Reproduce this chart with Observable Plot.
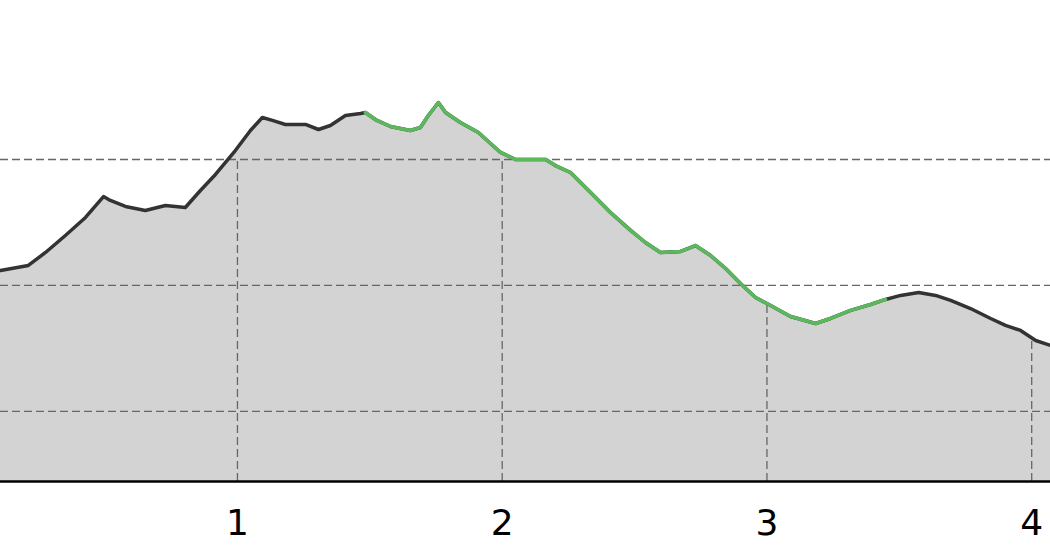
<!DOCTYPE html>
<html>
<head>
<meta charset="utf-8">
<script src="https://cdn.jsdelivr.net/npm/d3@7"></script>
<script src="https://cdn.jsdelivr.net/npm/@observablehq/plot@0.6"></script>
<style>
  html, body { margin: 0; padding: 0; background: #fff; }
  #chart svg { display: block; }
</style>
</head>
<body>
<div id="chart"></div>
<script>
// distance along route (km)
const distance = [0.105,0.210,0.275,0.350,0.426,0.494,0.520,0.577,0.652,0.728,0.803,0.860,0.917,0.992,1.049,1.094,1.132,1.181,1.257,1.306,1.351,1.408,1.465,1.483,1.521,1.578,1.653,1.691,1.721,1.759,1.786,1.842,1.910,1.956,1.994,2.050,2.164,2.201,2.258,2.334,2.409,2.485,2.541,2.598,2.674,2.730,2.787,2.844,2.900,2.957,3.014,3.089,3.184,3.240,3.316,3.391,3.448,3.505,3.573,3.637,3.694,3.769,3.845,3.901,3.958,4.015,4.071];
// elevation (m)
const elevation = [211.9,215.9,226.2,239.7,254.0,270.6,267.5,262.7,259.5,263.5,261.9,275.4,288.1,307.1,323.0,333.3,331.0,327.8,327.8,323.8,327.0,334.9,336.5,337.3,331.7,326.2,323.0,325.4,334.9,345.2,337.3,329.4,321.4,312.7,305.6,300.0,300.0,295.2,289.7,273.8,257.9,243.7,234.1,226.2,227.0,231.7,223.8,213.5,201.6,190.5,184.1,175.4,169.8,173.8,180.2,184.9,188.9,192.1,194.4,192.1,188.1,181.7,173.8,168.3,164.3,156.3,152.4];
// highlighted section (km)
const highlightStart = 1.483;
const highlightEnd = 3.448;
const xTicks = [1, 2, 3, 4];
const xTickLabels = ["1", "2", "3", "4"];
const yGrid = [100, 200, 300];
const xDomain = [0.105, 4.071];
const yDomain = [44.4, 426.2];

const data = distance.map((d, i) => ({dist: d, elev: elevation[i]}));
const highlighted = data.filter(d => d.dist >= highlightStart && d.dist <= highlightEnd);

const chart = Plot.plot({
  width: 1050,
  height: 560,
  marginTop: 0,
  marginBottom: 79,
  marginLeft: 0,
  marginRight: 0,
  style: {background: "#fff", fontFamily: "DejaVu Sans", color: "#000", overflow: "visible"},
  x: {domain: xDomain},
  y: {domain: yDomain, axis: null},
  marks: [
    Plot.areaY(data, {x: "dist", y1: yDomain[0], y2: "elev", fill: "#d3d3d3"}),
    Plot.ruleX(xTicks, {y1: yDomain[0], y2: yGrid[yGrid.length - 1], stroke: "#666", strokeWidth: 1.3, strokeDasharray: "8,4"}),
    Plot.areaY(data, {x: "dist", y1: "elev", y2: yDomain[1], fill: "#fff"}),
    Plot.ruleY(yGrid, {stroke: "#666", strokeWidth: 1.3, strokeDasharray: "8,4"}),
    Plot.line(data, {x: "dist", y: "elev", stroke: "#333", strokeWidth: 3.5}),
    Plot.line(highlighted, {x: "dist", y: "elev", stroke: "#5cb85c", strokeWidth: 3.5}),
    Plot.ruleY([yDomain[0]], {stroke: "#000", strokeWidth: 2.5}),
    Plot.axisX({ticks: xTicks, tickFormat: (d, i) => xTickLabels[xTicks.indexOf(d)], tickSize: 0, tickPadding: 28, fontSize: 36, fontFamily: "DejaVu Sans", fill: "#000", label: null})
  ]
});
document.getElementById("chart").append(chart);
</script>
</body>
</html>
